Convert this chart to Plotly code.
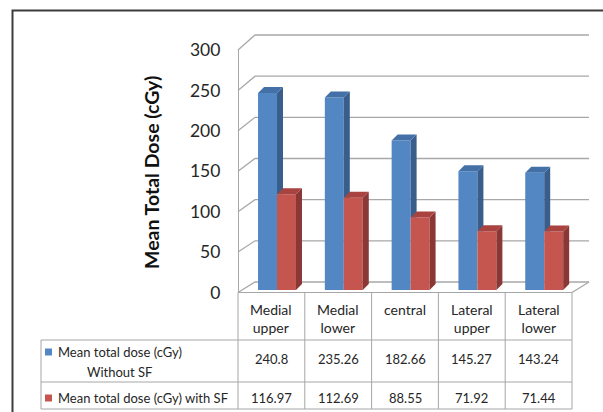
import plotly.graph_objects as go

# ---- data -------------------------------------------------------------
categories = [["Medial", "upper"], ["Medial", "lower"], ["central"],
              ["Lateral", "upper"], ["Lateral", "lower"]]
without_sf = [240.8, 235.26, 182.66, 145.27, 143.24]
with_sf = [116.97, 112.69, 88.55, 71.92, 71.44]
y_ticks = [0, 50, 100, 150, 200, 250, 300]
row1_label = ["Mean total dose (cGy)", "Without SF"]
row2_label = "Mean total dose (cGy) with SF"
y_title = "Mean Total Dose (cGy)"

# ---- page / projection constants (pixels) ----------------------------
W, H = 603, 412
X_UNIT = 66.8      # px per category column
X_LEFT = 238       # px of the front axis line (left edge of first column)
Y_UNIT = 0.818     # px per cGy in the plane of the bar fronts
Y_BASE = 290       # px of 0 cGy in the plane of the bar fronts

FRONT_X, FRONT_Y0, FRONT_YTOP = 238, 292.5, 50     # side wall front edge
BACK_X, BACK_Y0, BACK_YTOP, BACK_RIGHT = 255, 282, 35, 589
FLOOR_RIGHT = 572
DEPTH_PX = 6       # depth of each 3-D column
BAR_W = 0.284      # column width in category units
GROUP_SHIFT = 0.084

ROW1_TOP, ROW2_TOP, TABLE_BOTTOM, TABLE_LEFT = 340, 382, 409, 41

x_range = [-0.5 - X_LEFT / X_UNIT, -0.5 + (W - X_LEFT) / X_UNIT]
y_range = [-(H - Y_BASE) / Y_UNIT, Y_BASE / Y_UNIT]


def dx(px):
    return x_range[0] + px / X_UNIT


def dy(py):
    return (Y_BASE - py) / Y_UNIT


def fx(px):
    return px / W


def fy(py):
    return 1 - py / H


DDX = DEPTH_PX / X_UNIT
DDY = DEPTH_PX / Y_UNIT

BLUE = dict(front="#5287C4", side="#395E8C", top="#4470A8")
RED = dict(front="#C4554F", side="#8A3735", top="#A8433F")
GRID = "#A8A8A8"
TEXT = "#262626"
FONT = "Lato"

fig = go.Figure()

# ---- column fronts ----------------------------------------------------
xs = list(range(len(categories)))
blue_x = [i + GROUP_SHIFT - BAR_W / 2 for i in xs]
red_x = [i + GROUP_SHIFT + BAR_W / 2 for i in xs]
fig.add_trace(go.Bar(x=blue_x, y=without_sf, width=BAR_W, base=0,
                     marker=dict(color=BLUE["front"], line=dict(width=0)),
                     hoverinfo="skip", showlegend=False))
fig.add_trace(go.Bar(x=red_x, y=with_sf, width=BAR_W, base=0,
                     marker=dict(color=RED["front"], line=dict(width=0)),
                     hoverinfo="skip", showlegend=False))


def face(xp, yp, color):
    fig.add_trace(go.Scatter(x=xp + [xp[0]], y=yp + [yp[0]], mode="lines",
                             fill="toself", fillcolor=color,
                             line=dict(width=0, color=color),
                             hoverinfo="skip", showlegend=False))


# ---- column sides and tops ---------------------------------------------
for i in xs:
    vb, vr = without_sf[i], with_sf[i]
    bl = blue_x[i] - BAR_W / 2
    br = blue_x[i] + BAR_W / 2
    # blue side: only the part rising above the red column in front of it
    face([br, br, br + DDX, br + DDX], [vr, vb, vb + DDY, vr], BLUE["side"])
    face([bl, br, br + DDX, bl + DDX], [vb, vb, vb + DDY, vb + DDY], BLUE["top"])
for i in xs:
    vr = with_sf[i]
    rl = red_x[i] - BAR_W / 2
    rr = red_x[i] + BAR_W / 2
    face([rr, rr, rr + DDX, rr + DDX], [0, vr, vr + DDY, DDY], RED["side"])
    face([rl, rr, rr + DDX, rl + DDX], [vr, vr, vr + DDY, vr + DDY], RED["top"])

# invisible trace so the front value axis gets its own subplot
fig.add_trace(go.Scatter(x=[None], y=[None], yaxis="y2", mode="markers",
                         hoverinfo="skip", showlegend=False))

shapes = []

# ---- walls and gridlines (side wall diagonal + back wall) --------------
for v in y_ticks:
    fpy = FRONT_Y0 + (FRONT_YTOP - FRONT_Y0) * v / y_ticks[-1]
    bpy = BACK_Y0 + (BACK_YTOP - BACK_Y0) * v / y_ticks[-1]
    shapes.append(dict(type="path", xref="x", yref="y", layer="below",
                       path=f"M {dx(FRONT_X)},{dy(fpy)} L {dx(BACK_X)},{dy(bpy)} "
                            f"L {dx(BACK_RIGHT)},{dy(bpy)}",
                       line=dict(color=GRID, width=1.3)))
# floor right edge
shapes.append(dict(type="line", xref="x", yref="y", layer="below",
                   x0=dx(FLOOR_RIGHT), y0=dy(FRONT_Y0),
                   x1=dx(BACK_RIGHT), y1=dy(BACK_Y0),
                   line=dict(color=GRID, width=1.3)))

# ---- data table grid -----------------------------------------------------
TLINE = dict(color="#A6A6A6", width=1)
shapes.append(dict(type="line", xref="x", yref="paper", x0=-0.5, x1=4.5,
                   y0=fy(FRONT_Y0), y1=fy(FRONT_Y0), line=TLINE))
for py in (ROW1_TOP, ROW2_TOP, TABLE_BOTTOM):
    shapes.append(dict(type="line", xref="paper", yref="paper",
                       x0=fx(TABLE_LEFT), x1=fx(X_LEFT + 5 * X_UNIT),
                       y0=fy(py), y1=fy(py), line=TLINE))
shapes.append(dict(type="line", xref="paper", yref="paper",
                   x0=fx(TABLE_LEFT), x1=fx(TABLE_LEFT),
                   y0=fy(ROW1_TOP), y1=fy(TABLE_BOTTOM), line=TLINE))
for k in range(len(categories) + 1):
    shapes.append(dict(type="line", xref="x", yref="paper",
                       x0=k - 0.5, x1=k - 0.5,
                       y0=fy(FRONT_Y0), y1=fy(TABLE_BOTTOM), line=TLINE))

# legend keys in the table
for py, col in ((352, BLUE["front"]), (398, RED["front"])):
    shapes.append(dict(type="rect", xref="paper", yref="paper",
                       x0=fx(45), x1=fx(52), y0=fy(py - 3.5), y1=fy(py + 3.5),
                       fillcolor=col, line=dict(width=0)))

# outer chart frame
shapes.append(dict(type="path", xref="paper", yref="paper",
                   path=f"M {fx(12.5)},{fy(H)} L {fx(12.5)},{fy(10.5)} L {fx(W)},{fy(10.5)}",
                   line=dict(color="#3C3C3C", width=2)))

annotations = []
tf = dict(family=FONT, size=13, color=TEXT)
cf = dict(family=FONT, size=14, color=TEXT)


def note(x, y, text, xref="paper", xanchor="center", yanchor="middle", font=tf, **kw):
    annotations.append(dict(x=x, y=y, xref=xref, yref="paper", text=text,
                            showarrow=False, xanchor=xanchor, yanchor=yanchor,
                            font=font, **kw))


for i, lines in enumerate(categories):
    note(i, fy(299), "<br>".join(lines), xref="x", yanchor="top", font=cf)
    note(i, fy(359), f"{without_sf[i]:g}", xref="x")
    note(i, fy(398), f"{with_sf[i]:g}", xref="x")
note(fx(56), fy(352), row1_label[0], xanchor="left")
note(fx(119), fy(372), row1_label[1])
note(fx(56), fy(398), row2_label, xanchor="left")
note(fx(152), fy(173), f"<b>{y_title}</b>", textangle=-90,
     font=dict(family=FONT, size=19.5, color="#111111"))

fig.update_layout(
    width=W, height=H,
    margin=dict(l=0, r=0, t=0, b=0, pad=0, autoexpand=False),
    paper_bgcolor="white", plot_bgcolor="rgba(0,0,0,0)",
    barmode="overlay",
    xaxis=dict(range=x_range, domain=[0, 1], visible=False, fixedrange=True),
    yaxis=dict(range=y_range, domain=[0, 1], visible=False, fixedrange=True),
    yaxis2=dict(range=[0, y_ticks[-1]], anchor="free", position=fx(FRONT_X),
                domain=[fy(FRONT_Y0), fy(FRONT_YTOP)],
                tickvals=y_ticks, ticks="", showgrid=False, zeroline=False,
                showline=True, linecolor=GRID, linewidth=1.3,
                ticklabelstandoff=14,
                tickfont=dict(family=FONT, size=17.5, color=TEXT),
                fixedrange=True),
    shapes=shapes,
    annotations=annotations,
    showlegend=False,
)

fig.write_html("out.html")
